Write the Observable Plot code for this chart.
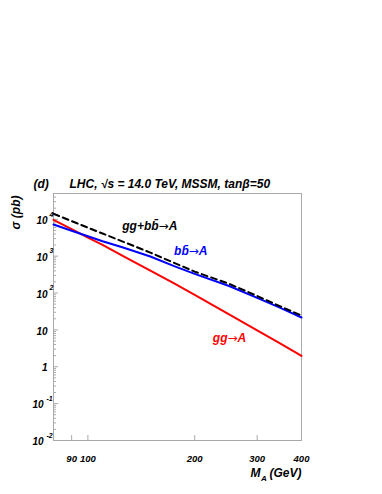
<!DOCTYPE html>
<html><head><meta charset="utf-8">
<script src="https://cdn.jsdelivr.net/npm/d3@7"></script>
<script src="https://cdn.jsdelivr.net/npm/@observablehq/plot@0.6"></script>
<style>body{margin:0;background:#fff;}</style>
</head><body><div id="chart"></div>
<script>
// Data (sigma in pb vs M_A in GeV)
const mass = [80, 90, 100, 110, 125, 150, 175, 200, 250, 300, 350, 400];
const sigmaTotal = [14100, 8910, 5920, 4100, 2520, 1245, 659, 380, 178, 83, 42.7, 24.5];
const sigmaBB = [7230, 4900, 3470, 2540, 1740, 977, 537, 331, 155, 74.1, 38.9, 21.7];
const sigmaGG = [9680, 5370, 3160, 2030, 1040, 404, 182, 89.1, 26.3, 9.77, 4.17, 1.96];

const labelText = ["gg+bb\u0304\u2192A", "bb\u0304\u2192A", "gg\u2192A"];
const labelMass = [125, 175, 225];
const labelSigma = [6650, 1365, 5.85];
const labelColor = ["black", "#0000ff", "#ff0000"];

const xTickValues = [90, 100, 200, 300];
const xLabelValues = [90, 100, 200, 300, 400];
const xLabelText = ["90", "100", "200", "300", "400"];
const yTickValues = [1e-2, 1e-1, 1, 10, 1e2, 1e3, 1e4];
const yTickBase = ["10", "10", "1", "10", "10", "10", "10"];
const yTickExp = ["-2", "-1", "", "", "2", "3", "4"];

const titleText = "LHC, \u221as = 14.0 TeV, MSSM, tan\u03b2=50";
const panelText = "(d)";
const yTitle = "\u03c3 (pb)";

const W = 382, H = 494, mL = 53, mR = 81, mT = 193, mB = 54;
const fw = W - mL - mR, fh = H - mT - mB;
const font = {fontFamily: "Liberation Sans, Arial, Helvetica, sans-serif", fontWeight: "bold", fontStyle: "italic"};
const axisColor = "#aaa";

const rows = (arr) => mass.map((m, i) => ({m, s: arr[i]}));
const labels = labelText.map((t, i) => ({t, m: labelMass[i], s: labelSigma[i], c: labelColor[i]}));
const yLab = yTickValues.map((v, i) => ({v, base: yTickBase[i], exp: yTickExp[i]}));
const yMinor = [];
for (let e = -2; e <= 4; e++) for (let k = 2; k <= 9; k++) { const v = k * 10 ** e; if (v <= 5e4) yMinor.push(v); }

const chart = Plot.plot({
  width: W, height: H,
  marginLeft: mL, marginRight: mR, marginTop: mT, marginBottom: mB,
  style: {background: "#fff", fontFamily: font.fontFamily},
  x: {type: "log", domain: [80, 400], axis: null},
  y: {type: "log", domain: [0.01, 5e4], axis: null},
  marks: [
    Plot.frame({stroke: axisColor}),
    Plot.tickY(yTickValues, {y: d => d, stroke: axisColor, insetRight: fw - 5}),
    Plot.tickY(yMinor, {y: d => d, stroke: axisColor, insetRight: fw - 3}),
    Plot.tickX(xTickValues, {x: d => d, stroke: axisColor, insetTop: fh - 5}),
    Plot.line(rows(sigmaGG), {x: "m", y: "s", stroke: "#ff0000", strokeWidth: 2}),
    Plot.line(rows(sigmaBB), {x: "m", y: "s", stroke: "#0000ff", strokeWidth: 2}),
    Plot.line(rows(sigmaTotal), {x: "m", y: "s", stroke: "black", strokeWidth: 2, strokeDasharray: "6,4"}),
    Plot.text(labels, {x: "m", y: "s", text: "t", fill: "c", textAnchor: "start", fontSize: 12, ...font}),
    // y tick labels
    Plot.text(yLab.filter(d => d.exp.length === 1), {y: "v", text: "base", frameAnchor: "left", textAnchor: "end", lineAnchor: "middle", dx: -6, dy: 1.5, fontSize: 10, ...font}),
    Plot.text(yLab.filter(d => d.exp.length === 1), {y: "v", text: "exp", frameAnchor: "left", textAnchor: "start", lineAnchor: "middle", dx: -4, dy: -5, fontSize: 7, ...font}),
    Plot.text(yLab.filter(d => d.exp.length === 2), {y: "v", text: "base", frameAnchor: "left", textAnchor: "end", lineAnchor: "middle", dx: -10, dy: 1.5, fontSize: 10, ...font}),
    Plot.text(yLab.filter(d => d.exp.length === 2), {y: "v", text: "exp", frameAnchor: "left", textAnchor: "start", lineAnchor: "middle", dx: -7, dy: -5, fontSize: 7, ...font}),
    Plot.text(yLab.filter(d => d.exp.length === 0), {y: "v", text: "base", frameAnchor: "left", textAnchor: "end", lineAnchor: "middle", dx: -6, dy: 1.5, fontSize: 10, ...font}),
    // x tick labels
    Plot.text(xLabelValues, {x: d => d, text: (d, i) => xLabelText[i], frameAnchor: "bottom", textAnchor: "middle", lineAnchor: "middle", dy: 18, fontSize: 9.5, ...font}),
    // titles
    Plot.text([titleText], {text: d => d, frameAnchor: "top-left", textAnchor: "start", lineAnchor: "middle", dx: 16, dy: -9, fontSize: 12, ...font}),
    Plot.text([panelText], {text: d => d, frameAnchor: "top-left", textAnchor: "start", lineAnchor: "middle", dx: -20, dy: -9, fontSize: 12, ...font}),
    Plot.text([yTitle], {text: d => d, frameAnchor: "top-left", textAnchor: "end", lineAnchor: "middle", rotate: -90, dx: -37, dy: 2, fontSize: 12, ...font}),
    Plot.text(["(GeV)"], {text: d => d, frameAnchor: "bottom-right", textAnchor: "end", lineAnchor: "middle", dx: 0, dy: 33, fontSize: 12, ...font}),
    Plot.text(["M"], {text: d => d, frameAnchor: "bottom-right", textAnchor: "start", lineAnchor: "middle", dx: -51, dy: 33, fontSize: 12, ...font}),
    Plot.text(["A"], {text: d => d, frameAnchor: "bottom-right", textAnchor: "start", lineAnchor: "middle", dx: -40.5, dy: 38, fontSize: 8, ...font})
  ]
});

// Render the arrow glyph with a font whose arrow is full width (like the original)
d3.select(chart).selectAll("text").each(function () {
  const el = this;
  const s = el.textContent;
  if (!s.includes("\u2192")) return;
  const parts = s.split("\u2192");
  el.textContent = "";
  parts.forEach((p, i) => {
    if (i > 0) {
      const a = document.createElementNS("http://www.w3.org/2000/svg", "tspan");
      a.setAttribute("font-family", "DejaVu Sans");
      a.setAttribute("font-style", "normal");
      a.setAttribute("font-weight", "normal");
      a.textContent = "\u2192";
      el.appendChild(a);
    }
    const t = document.createElementNS("http://www.w3.org/2000/svg", "tspan");
    t.textContent = p;
    el.appendChild(t);
  });
});
document.getElementById("chart").appendChild(chart);
</script>
</body></html>
